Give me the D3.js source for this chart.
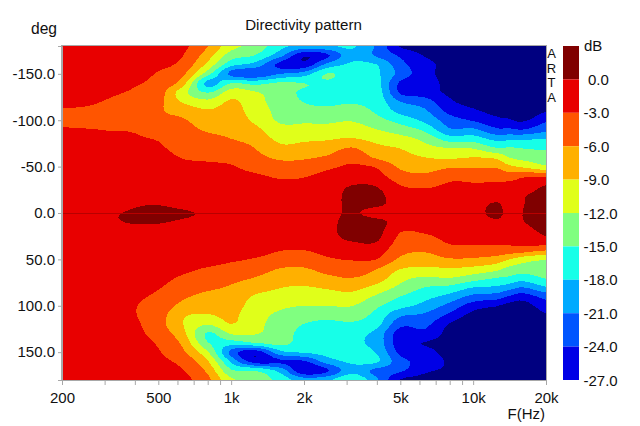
<!DOCTYPE html>
<html><head><meta charset="utf-8">
<script src="https://cdn.jsdelivr.net/npm/d3@7/dist/d3.min.js"></script>
<style>html,body{margin:0;padding:0;background:#fff}svg{display:block}text{font-family:"Liberation Sans",Arial,sans-serif;fill:#111}</style>
</head><body><svg id="c" width="640" height="426"></svg>
<script>
const title = "Directivity pattern";
const angleStep = 10;
const angles = d3.range(-180, 181, angleStep);
const freqs = [200,250,315,400,500,630,800,1000,1250,1600,2000,2500,3150,4000,5000,6300,8000,10000,12500,14000,16000,20000];
const xTickVals = [200,300,400,500,600,700,800,900,1000,2000,3000,4000,5000,6000,7000,8000,9000,10000,20000];
const xLabels = {200:"200",500:"500",1000:"1k",2000:"2k",5000:"5k",10000:"10k",20000:"20k"};
const yTickVals = [-150,-100,-50,0,50,100,150];
const barLevels = [0,-3,-6,-9,-12,-15,-18,-21,-24,-27];
const thresholds = [-27,-24,-21,-18,-15,-12,-9,-6,-3,0];
const colors = ["#0000E6","#0055FF","#00AAFF","#17FFE8","#80FF80","#E0FF1A","#FFB000","#FF5500","#E80000","#800000"];
const navy = "#000080";
// dB per frequency, one value per angle from -180 to 180 in 10 degree steps
const db200=[-1,-1.1,-1.3,-1.5,-1.8,-2.1,-2.5,-3.2,-3.6,-2.8,-2.3,-1.9,-1.6,-1.4,-1.2,-1.1,-1,-.9,-.8,-.8,-.9,-1,-1.1,-1.2,-1.3,-1.4,-1.5,-1.6,-1.7,-1.8,-1.8,-1.8,-1.7,-1.6,-1.5,-1.5,-1.5];
const db250=[-1.1,-1.2,-1.4,-1.6,-2,-2.3,-2.7,-3.3,-3.8,-2.9,-2.4,-2,-1.7,-1.4,-1.2,-1,-.9,-.8,-.6,-.6,-.8,-1,-1.1,-1.3,-1.4,-1.5,-1.6,-1.8,-1.9,-2,-2,-1.9,-1.8,-1.7,-1.6,-1.5,-1.5];
const db315=[-1.1,-1.3,-1.6,-1.9,-2.3,-2.7,-3.2,-3.7,-4.1,-3.1,-2.6,-2.1,-1.7,-1.4,-1.2,-1,-.9,-.8,-.2,-.2,-.7,-.9,-1,-1.2,-1.4,-1.6,-1.8,-2,-2.3,-2.4,-2.3,-2.2,-2,-1.9,-1.7,-1.6,-1.5];
const db400=[-1.4,-1.7,-2,-2.4,-2.8,-3.3,-4,-4.6,-4.8,-3.3,-2.7,-2.2,-1.8,-1.4,-1.1,-.8,-.5,-.2,.2,.1,-.5,-.8,-1,-1.3,-1.6,-1.9,-2.2,-2.6,-2.9,-2.9,-2.6,-2.4,-2.2,-2,-1.8,-1.6,-1.5];
const db500=[-1.7,-2.1,-2.5,-3.2,-3.8,-4.5,-5.2,-5.7,-5.5,-4.6,-3.2,-2.7,-2.2,-1.6,-1.2,-.9,-.5,-.1,.5,.1,-.6,-.9,-1.2,-1.5,-1.9,-2.3,-2.8,-3.5,-4.1,-4.6,-4.8,-4.2,-3.3,-2.8,-2.4,-2.1,-1.9];
const db630=[-2.3,-2.9,-3.8,-5.3,-7.5,-10.8,-9.3,-7,-5.7,-5,-4.3,-3.7,-3.1,-2.5,-1.9,-1.4,-1,-.5,.2,-.2,-.7,-1,-1.5,-1.9,-2.5,-3.3,-4.3,-5.5,-6.8,-8.6,-8.9,-8,-6.6,-5.4,-3.9,-2.8,-2.2];
const db800=[-5.9,-7.6,-9.8,-13.7,-19.2,-15.2,-11.2,-8.7,-7.6,-6.4,-5.2,-4.2,-3.3,-2.7,-2.1,-1.6,-1.1,-.7,-.2,-.4,-.9,-1.2,-1.5,-1.9,-3.2,-4,-5.4,-6.8,-8,-9.2,-11.9,-15.5,-14.8,-11.6,-8.7,-6.6,-5.2];
const db1000=[-11,-13.5,-17,-22,-15,-10.5,-8.6,-8,-7.5,-6.8,-6,-4.9,-3.8,-2.8,-2.2,-1.6,-1.2,-.8,-.4,-.6,-1,-1.3,-1.6,-2.6,-3.9,-5.1,-6.3,-7,-7.6,-8.3,-9,-11.7,-16.5,-22,-18.5,-14.5,-11.5];
const db1250=[-13,-15,-19,-23.5,-16,-11.7,-10.8,-10.2,-9.5,-8.2,-7,-6,-5.2,-4,-2.6,-2,-1.6,-1.1,-.7,-.8,-1.1,-1.4,-1.9,-3.2,-4.5,-6.1,-7.7,-9.3,-10.3,-11,-11.3,-11.8,-15,-26,-25.5,-15,-13];
const db1600=[-17,-20,-25,-21,-14.5,-13.8,-13.5,-13,-12.5,-11,-9.8,-8.3,-6.5,-5,-3.4,-2.4,-1.8,-1.2,-.8,-.8,-1.1,-1.5,-2.9,-4.2,-6.1,-7.6,-8.9,-10,-11.5,-12.5,-13,-13.5,-14,-18.8,-24.5,-19,-16];
const db2000=[-19,-26.5,-26.2,-19.5,-15,-15.5,-15.1,-14,-12.5,-11,-9.5,-8,-6.4,-4.7,-3.2,-2.3,-1.6,-1,-.4,-.6,-1,-1.5,-3,-4.6,-6.2,-7.7,-9.2,-10.6,-12,-13.5,-15.1,-16,-16.5,-17.7,-24.5,-26.5,-19.5];
const db2500=[-18.5,-24.5,-20,-14.8,-15.5,-16.5,-15.7,-14.2,-12.6,-11,-9.3,-7.4,-5.6,-3.6,-2.2,-1.4,-1.2,-.9,-.7,-.7,-.6,-.8,-2,-3.4,-5,-6.6,-8.6,-10.4,-12,-14,-15.8,-16.5,-17,-17,-19.5,-24.5,-18.5];
const db3150=[-17.5,-19,-17.5,-17,-17,-16.5,-15.3,-13.8,-12.2,-10.5,-8.8,-5.8,-4,-2.6,-1.6,0,.7,.6,.3,1,.9,.1,-1.5,-2.8,-4.7,-6,-8,-10,-11.9,-13.6,-15.5,-17,-17.5,-17,-17.5,-19,-15.2];
const db4000=[-21.5,-21.5,-18,-17.5,-17,-16.5,-16.3,-15.5,-14,-12,-10,-8.2,-6.5,-3.3,-2,-.2,.7,.6,-1,.8,.9,.2,-1.6,-3,-5.9,-7.4,-10,-12.5,-14.5,-16,-17,-19,-19.2,-18.3,-17.5,-22,-20.5];
const db5000=[-27.3,-24.5,-23,-22,-24.6,-24.5,-21,-19,-16.2,-13.5,-11,-9.1,-7.8,-6.5,-4.8,-3,-1.8,-1.2,-1,-1,-2.9,-3.9,-5,-6.6,-8.9,-11,-12.7,-15,-17,-20.5,-23.2,-25.5,-25.8,-24.8,-23,-23.5,-27.2];
const db6300=[-28,-27.2,-26,-26,-25.5,-25.5,-22.5,-20.5,-18.7,-15.7,-12.8,-11,-9,-7.5,-5.4,-3.5,-2.3,-1.7,-1.4,-1.3,-2.7,-4,-5.6,-7.5,-9.5,-12.4,-15,-17,-19,-21.5,-23.2,-24.8,-27.1,-26,-25,-26.5,-28];
const db8000=[-28.5,-28,-28,-28,-28,-27.6,-26.5,-25,-22.5,-20.7,-16.5,-12,-9.5,-6.4,-3.8,-2.7,-2.2,-1.8,-1.5,-1.5,-2,-2.6,-3.9,-6.3,-9.2,-12,-15.7,-19,-22,-24.6,-27.3,-28,-28,-28,-27.5,-27.5,-28.5];
const db10000=[-29,-29,-29,-29,-29,-28.5,-28,-26.5,-24.3,-20.5,-16.5,-12.2,-9,-6.4,-3.8,-2.8,-2.2,-1,-.8,-.8,-1.4,-2.2,-4.2,-6.4,-9.8,-13.5,-17.9,-21.8,-25.5,-28,-29,-29,-29,-29,-29,-29,-29];
const db12500=[-29.5,-29.5,-29.5,-29.5,-29.5,-29.5,-29.5,-28,-26.2,-23.5,-19,-14.9,-9.6,-6.4,-3.9,-2.6,-1.2,.2,.5,-.3,-1,-2.3,-4,-7.3,-11,-15,-18.4,-22.5,-26.8,-29,-30,-30,-30,-30,-30,-30,-30];
const db14000=[-30,-30,-30,-30,-30,-30,-30,-28.5,-26.6,-23.5,-18.7,-14.7,-12,-8.3,-4.5,-2.2,-1.4,-.8,-.5,-.7,-1.2,-2.3,-4.2,-8.9,-12.8,-15.5,-19.5,-24.2,-28,-29.5,-30,-30,-30,-30,-30,-30,-30];
const db16000=[-30,-30,-30,-30,-30,-30,-30,-30,-27.5,-24,-18.5,-15.1,-13,-9.5,-3.5,-2,-.3,-.1,0,-.1,-.8,-1.8,-4.5,-10.7,-13.4,-16.5,-21,-25.5,-28.5,-30,-30,-30,-30,-30,-30,-30,-30];
const db20000=[-30,-30,-30,-30,-30,-30,-30,-27.2,-24.5,-22,-18,-15.6,-13.3,-11.5,-3.8,0,.8,1,1,.9,.4,-.9,-5.8,-11.9,-13.4,-14.8,-18.2,-23,-25.3,-27.3,-29,-30,-30,-30,-30,-30,-30];
const dbByFreq=[db200,db250,db315,db400,db500,db630,db800,db1000,db1250,db1600,db2000,db2500,db3150,db4000,db5000,db6300,db8000,db10000,db12500,db14000,db16000,db20000];

const L=62,R=546,T=46,B=380;
const svg=d3.select("#c");
const x=d3.scaleLog().domain([200,20000]).range([L,R]);
const y=d3.scaleLinear().domain([-180,180]).range([T,B]);
const nc=freqs.length,nr=angles.length,k=4;

function cr(p0,p1,p2,p3,t){return .5*((2*p1)+(-p0+p2)*t+(2*p0-5*p1+4*p2-p3)*t*t+(-p0+3*p1-3*p2+p3)*t*t*t);}
const at=(c,r)=>dbByFreq[Math.max(0,Math.min(nc-1,c))][Math.max(0,Math.min(nr-1,r))];
const W=(nc-1)*k+1,H=(nr-1)*k+1,grid=new Float64Array(W*H);
for(let j=0;j<H;j++){const r=Math.floor(j/k),tr=j/k-r;
  for(let i=0;i<W;i++){const c=Math.floor(i/k),tc=i/k-c;
    const row=[-1,0,1,2].map(d=>cr(at(c-1,r+d),at(c,r+d),at(c+1,r+d),at(c+2,r+d),tc));
    grid[j*W+i]=cr(row[0],row[1],row[2],row[3],tr);}}
const px=g=>{const u=Math.max(0,Math.min(nc-1,(g-.5)/k)),a=Math.min(nc-2,Math.floor(u));
  return x(freqs[a])+(x(freqs[a+1])-x(freqs[a]))*(u-a);};
const py=g=>y(Math.max(-180,Math.min(180,-180+angleStep*(g-.5)/k)));
const path=d3.geoPath(d3.geoTransform({point(a,b){this.stream.point(px(a),py(b));}}));

svg.append("defs").append("clipPath").attr("id","plot").append("rect").attr("x",L).attr("y",T).attr("width",R-L).attr("height",B-T);
const plot=svg.append("g").attr("clip-path","url(#plot)");
plot.append("rect").attr("x",L).attr("y",T).attr("width",R-L).attr("height",B-T).attr("fill",navy);
const contours=d3.contours().size([W,H]).thresholds(thresholds)(Array.from(grid));
plot.selectAll("path").data(contours).join("path").attr("d",path)
  .attr("fill",(d,i)=>colors[i]).attr("shape-rendering","crispEdges");
plot.append("line").attr("x1",L).attr("x2",R).attr("y1",y(0)+.5).attr("y2",y(0)+.5).attr("stroke","#B80000");

// frame and axes
const axisCol="#a8a8a8";
svg.append("rect").attr("x",L-.5).attr("y",T-.5).attr("width",R-L+1).attr("height",B-T+1).attr("fill","none").attr("stroke",axisCol);
const ax=svg.append("g").attr("transform",`translate(0,${B})`).call(d3.axisBottom(x).tickValues(xTickVals).tickSize(5).tickPadding(7).tickFormat(d=>xLabels[d]||""));
const ay=svg.append("g").attr("transform",`translate(${L},0)`).call(d3.axisLeft(y).tickValues(yTickVals).tickSize(4).tickPadding(3).tickFormat(d=>d.toFixed(1)));
[ax,ay].forEach(g=>{g.select(".domain").attr("stroke",axisCol);g.selectAll("line").attr("stroke",axisCol);
  g.selectAll("text").style("font-size","15px").style("font-family",'"Liberation Sans"').attr("fill","#111");});

const label=(s,px_,py_,anchor,size)=>svg.append("text").attr("x",px_).attr("y",py_).attr("text-anchor",anchor||"start").attr("font-size",size||15).text(s);
label(title,303.5,30,"middle",15.1);
label("deg",31,34,"start",15.6);
label("F(Hz)",545,419,"end");
[["A",58],["R",72.7],["T",87.3],["A",102]].forEach(([s,yy])=>label(s,551.5,yy,"middle",13));

// colour bar
const bar=d3.scaleLinear().domain([3,-27]).range([T,B]);
const bands=[3].concat(barLevels);
svg.selectAll("rect.b").data(barLevels).join("rect").attr("class","b").attr("x",563).attr("width",16)
  .attr("y",(d,i)=>bar(bands[i])).attr("height",(d,i)=>bar(bands[i+1])-bar(bands[i]))
  .attr("fill",(d,i)=>colors[colors.length-1-i]);
barLevels.forEach(v=>label(v.toFixed(1),v<0?583.5:588,bar(v)+5.5));
label("dB",584,51);
</script></body></html>
